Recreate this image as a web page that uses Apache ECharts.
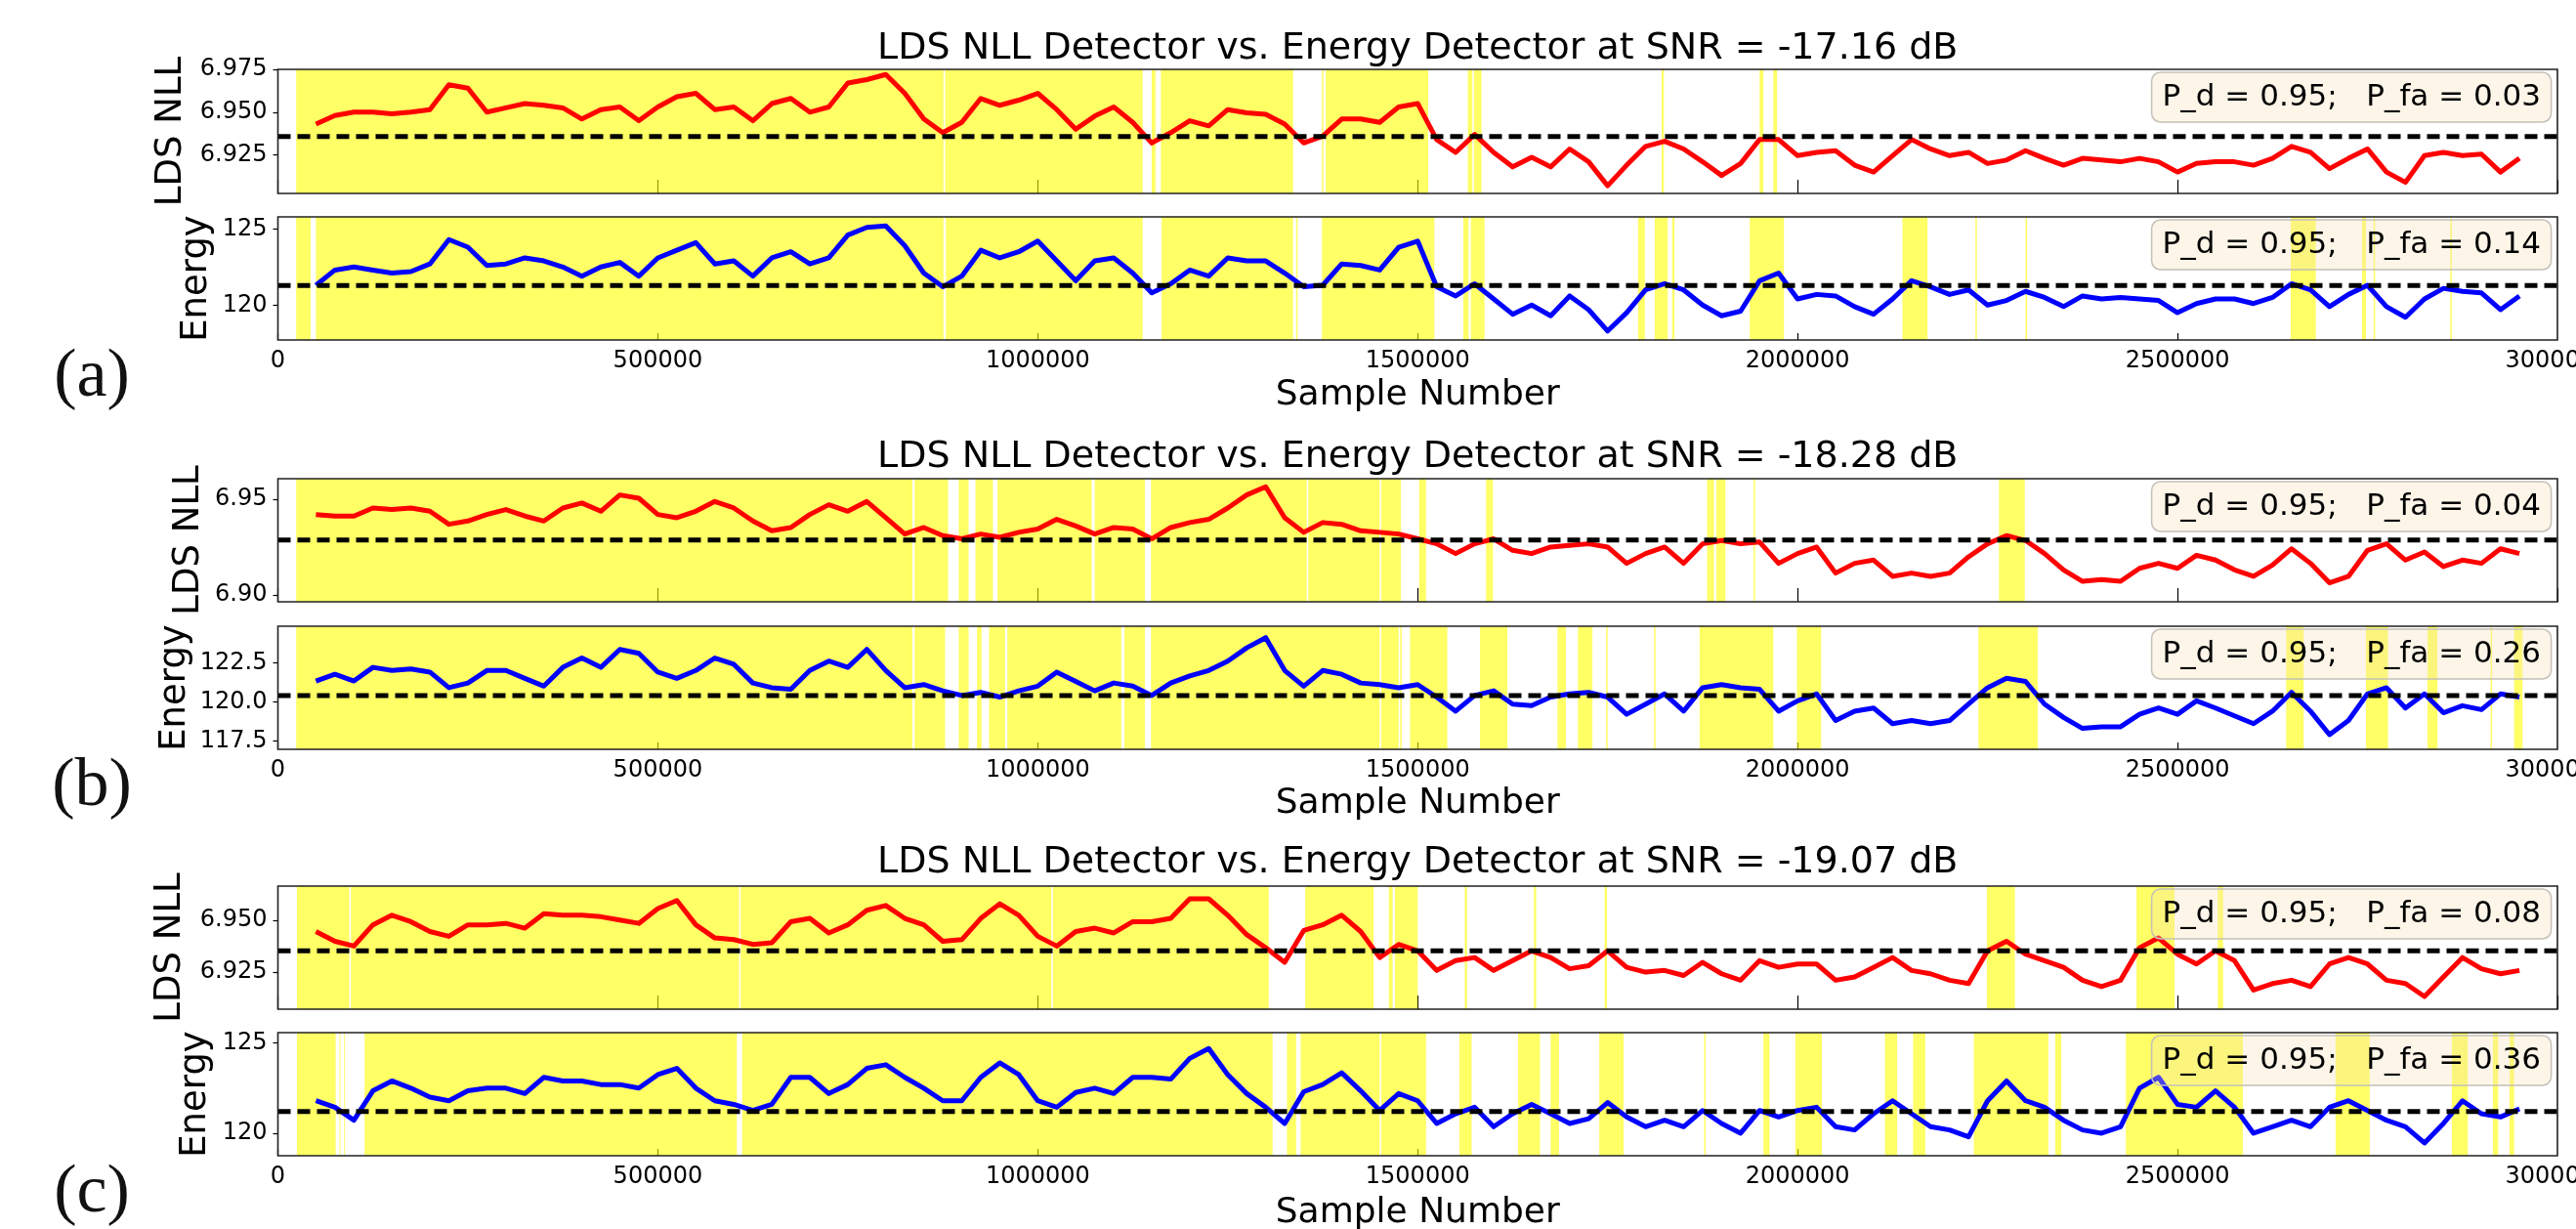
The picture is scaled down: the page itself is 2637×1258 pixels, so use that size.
<!DOCTYPE html>
<html><head><meta charset="utf-8">
<script src="https://cdn.jsdelivr.net/npm/echarts@6/dist/echarts.min.js"></script>
<style>html,body{margin:0;padding:0;background:#fff}#chart{width:2637px;height:1258px}</style>
</head><body><div id="chart"></div>
<script>
// ---------------- DATA ----------------
const sampleStart = 50000, sampleStep = 25000, sampleCount = 117;
const sampleNumbers = Array.from({length: sampleCount}, (_, i) => sampleStart + i * sampleStep);

const panelTitles = [
  'LDS NLL Detector vs. Energy Detector at SNR = -17.16 dB',
  'LDS NLL Detector vs. Energy Detector at SNR = -18.28 dB',
  'LDS NLL Detector vs. Energy Detector at SNR = -19.07 dB'
];
const panelTags = ['(a)', '(b)', '(c)'];
const xAxisName = 'Sample Number';
const yNames = ['LDS NLL', 'Energy'];
const xTicks = [0, 3000000, 500000]; // min, max, interval

const nllA = [6.943,6.948,6.950,6.950,6.949,6.950,6.9515,6.966,6.964,6.950,
 6.9525,6.955,6.954,6.9525,6.946,6.9515,6.953,6.945,6.953,6.959,
 6.961,6.9515,6.953,6.945,6.955,6.958,6.950,6.953,6.967,6.969,
 6.972,6.961,6.946,6.938,6.944,6.958,6.954,6.957,6.961,6.9515,
 6.940,6.9477,6.953,6.944,6.932,6.938,6.945,6.942,6.9515,6.9496,
 6.9487,6.943,6.932,6.936,6.946,6.946,6.944,6.953,6.955,6.934,
 6.9265,6.937,6.9265,6.918,6.9236,6.918,6.9285,6.921,6.907,6.919,
 6.930,6.933,6.9285,6.921,6.913,6.920,6.934,6.934,6.9246,6.9265,
 6.9275,6.919,6.915,6.9246,6.934,6.9285,6.9246,6.9265,6.920,6.922,
 6.9275,6.923,6.919,6.923,6.922,6.921,6.923,6.921,6.915,6.920,
 6.921,6.921,6.919,6.923,6.930,6.9265,6.917,6.923,6.9285,6.915,
 6.909,6.9246,6.9265,6.9246,6.9255,6.915,6.923];
const energyA = [121.3,122.3,122.5,122.3,122.1,122.2,122.7,124.3,123.8,122.6,
 122.7,123.1,122.9,122.5,121.9,122.5,122.8,121.9,123.1,123.6,
 124.1,122.7,122.9,121.9,123.1,123.5,122.7,123.1,124.6,125.1,
 125.2,123.9,122.1,121.2,121.9,123.6,123.1,123.5,124.2,122.9,
 121.6,122.9,123.1,122.1,120.8,121.4,122.3,121.9,123.1,122.9,
 122.9,122.1,121.2,121.3,122.7,122.6,122.3,123.8,124.2,121.2,
 120.6,121.4,120.4,119.4,120.0,119.3,120.6,119.7,118.3,119.5,
 121.0,121.4,121.0,120.0,119.3,119.6,121.6,122.1,120.4,120.7,
 120.6,119.9,119.4,120.4,121.6,121.2,120.7,121.0,120.0,120.3,
 120.9,120.5,119.9,120.6,120.4,120.5,120.4,120.3,119.5,120.1,
 120.4,120.4,120.1,120.5,121.4,121.0,119.9,120.7,121.3,119.9,
 119.2,120.4,121.1,120.9,120.8,119.7,120.6];
const nllB = [6.942,6.9412,6.9412,6.9454,6.9446,6.9454,6.9437,6.9369,6.9386,6.942,
 6.9446,6.9412,6.9386,6.9454,6.948,6.9437,6.9522,6.9505,6.942,6.9403,
 6.9437,6.9488,6.9454,6.9386,6.9335,6.9352,6.942,6.9471,6.9437,6.9488,
 6.9403,6.9318,6.9352,6.931,6.9293,6.9318,6.9301,6.9327,6.9344,6.9395,
 6.936,6.9318,6.9352,6.9344,6.9293,6.9352,6.9378,6.9395,6.9454,6.9522,
 6.9565,6.9403,6.9327,6.9378,6.9369,6.9335,6.9327,6.9318,6.9293,6.9267,
 6.9216,6.9267,6.9293,6.9233,6.9216,6.925,6.9259,6.9267,6.925,6.9165,
 6.9216,6.925,6.9165,6.9267,6.9284,6.9267,6.9276,6.9165,6.9216,6.925,
 6.9114,6.9165,6.9182,6.9097,6.9114,6.9097,6.9114,6.9199,6.9267,6.931,
 6.9284,6.9216,6.9131,6.9071,6.908,6.9071,6.9139,6.9165,6.9139,6.9207,
 6.9182,6.9131,6.9097,6.9156,6.9241,6.9165,6.9063,6.9097,6.9233,6.9267,
 6.9182,6.9224,6.9148,6.9182,6.9165,6.9241,6.9216];
const energyB = [121.33,121.76,121.33,122.2,122.0,122.1,121.9,120.9,121.2,122.0,
 122.0,121.5,121.0,122.2,122.8,122.2,123.35,123.1,121.9,121.5,
 122.0,122.8,122.4,121.2,120.9,120.8,122.0,122.6,122.2,123.35,
 122.0,120.9,121.1,120.7,120.4,120.6,120.3,120.7,121.0,121.9,
 121.3,120.7,121.2,121.0,120.4,121.2,121.65,122.0,122.6,123.45,
 124.1,122.0,121.0,122.0,121.76,121.2,121.1,120.9,121.1,120.3,
 119.4,120.4,120.7,119.85,119.75,120.3,120.5,120.6,120.3,119.2,
 119.85,120.5,119.4,120.9,121.1,120.9,120.8,119.4,120.06,120.5,
 118.8,119.4,119.6,118.6,118.8,118.6,118.8,119.85,120.9,121.5,
 121.3,119.85,119.0,118.3,118.4,118.4,119.2,119.6,119.2,120.06,
 119.6,119.1,118.6,119.4,120.6,119.4,117.9,118.8,120.5,120.9,
 119.6,120.5,119.3,119.75,119.5,120.5,120.3];
const nllC = [6.9445,6.9398,6.9375,6.9477,6.9523,6.9492,6.9445,6.9422,6.9477,6.9477,
 6.9484,6.9461,6.9531,6.9523,6.9523,6.9516,6.950,6.9484,6.9555,6.9594,
 6.9477,6.9414,6.9406,6.9383,6.9391,6.9492,6.9508,6.9438,6.9477,6.9547,
 6.957,6.9508,6.9477,6.9398,6.9406,6.9508,6.9578,6.9523,6.9422,6.9375,
 6.9445,6.9461,6.9438,6.9492,6.9492,6.9508,6.9602,6.9602,6.9523,6.943,
 6.9367,6.9297,6.945,6.9477,6.9523,6.9445,6.932,6.9383,6.9352,6.9258,
 6.9305,6.932,6.9258,6.9305,6.9352,6.932,6.9266,6.9281,6.9352,6.9273,
 6.925,6.9258,6.9234,6.9297,6.9242,6.9211,6.9305,6.9273,6.9289,6.9289,
 6.9211,6.9227,6.9273,6.932,6.9258,6.9242,6.9211,6.9195,6.9352,6.9398,
 6.9336,6.9305,6.9273,6.9211,6.918,6.9211,6.9367,6.9414,6.9336,6.9289,
 6.9352,6.9305,6.9164,6.9195,6.9211,6.918,6.9289,6.932,6.9289,6.9211,
 6.9195,6.9133,6.9227,6.932,6.9266,6.9242,6.9258];
const energyC = [121.8,121.44,120.72,122.35,122.9,122.5,122.0,121.8,122.35,122.5,
 122.5,122.2,123.1,122.9,122.9,122.7,122.7,122.5,123.25,123.6,
 122.5,121.8,121.6,121.26,121.6,123.1,123.1,122.2,122.7,123.6,
 123.8,123.1,122.5,121.8,121.8,123.1,123.9,123.25,121.8,121.44,
 122.26,122.5,122.2,123.1,123.1,123.0,124.15,124.7,123.25,122.2,
 121.44,120.54,122.3,122.7,123.35,122.35,121.26,122.2,121.8,120.54,
 121.08,121.44,120.36,121.08,121.6,121.08,120.54,120.8,121.7,120.9,
 120.36,120.72,120.36,121.26,120.54,120.0,121.26,120.9,121.26,121.44,
 120.36,120.18,121.08,121.8,121.08,120.36,120.18,119.8,121.8,122.9,
 121.8,121.44,120.72,120.18,120.0,120.36,122.5,123.1,121.6,121.44,
 122.35,121.44,120.0,120.36,120.72,120.36,121.44,121.8,121.26,120.72,
 120.36,119.46,120.54,121.8,121.08,120.9,121.35];

const thresholdsNll = [6.9358, 6.9287, 6.9352];
const thresholdsEnergy = [121.28, 120.4, 121.2];

const boxTextsNll = ['P_d = 0.95;   P_fa = 0.03', 'P_d = 0.95;   P_fa = 0.04', 'P_d = 0.95;   P_fa = 0.08'];
const boxTextsEnergy = ['P_d = 0.95;   P_fa = 0.14', 'P_d = 0.95;   P_fa = 0.26', 'P_d = 0.95;   P_fa = 0.36'];

// y ranges and tick labels
const yRangeNll = [[6.9025, 6.975], [6.8964, 6.9607], [6.9072, 6.9663]];
const yRangeEnergy = [[117.71, 125.79], [116.96, 124.83], [118.75, 125.58]];
const yTicksNll = [[6.925, 6.950, 6.975], [6.90, 6.95], [6.925, 6.950]];
const yTicksEnergy = [[120, 125], [117.5, 120.0, 122.5], [120, 125]];
const yDecNll = [3, 2, 3];
const yDecEnergy = [0, 1, 0];

// detection (shaded) spans [start, end] in samples
const spansNllA = [[24000,876000],[878000,1138000],[1150000,1155000],[1162000,1336000],[1374000,1376000],[1379000,1514000],
 [1566000,1572000],[1574000,1584000],[1821000,1824000],[1950000,1955000],[1968000,1973000]];
const spansEnergyA = [[24000,43000],[50000,876000],[879000,1138000],[1163000,1336000],[1340000,1342000],[1374000,1522000],
 [1560000,1567000],[1570000,1588000],[1790000,1799000],[1812000,1829000],[1835000,1838000],[1937000,1982000],
 [2138000,2171000],[2234000,2236000],[2300000,2302000],[2649000,2682000],[2743000,2748000],[2758000,2760000],[2859000,2861000]];
const spansNllB = [[24000,835000],[838000,882000],[896000,909000],[918000,941000],[947000,1071000],[1075000,1141000],
 [1149000,1354000],[1356000,1450000],[1452000,1478000],[1502000,1511000],[1590000,1599000],[1881000,1890000],
 [1893000,1905000],[1942000,1944000],[2265000,2299000]];
const spansEnergyB = [[24000,835000],[838000,878000],[896000,909000],[920000,926000],[936000,957000],[960000,1110000],
 [1114000,1141000],[1149000,1450000],[1452000,1475000],[1477000,1479000],[1490000,1539000],[1582000,1618000],
 [1684000,1695000],[1711000,1730000],[1748000,1750000],[1811000,1813000],[1871000,1968000],[1999000,2031000],
 [2238000,2316000],[2643000,2666000],[2748000,2777000],[2829000,2842000],[2912000,2914000],[2943000,2954000]];
const spansNllC = [[25000,94000],[96000,607000],[609000,1018000],[1020000,1304000],[1352000,1442000],[1462000,1467000],
 [1470000,1500000],[1562000,1565000],[1653000,1656000],[1746000,1749000],[2249000,2286000],[2446000,2496000],[2553000,2560000]];
const spansEnergyC = [[25000,76000],[81000,82000],[87000,88000],[114000,604000],[611000,1309000],[1328000,1340000],
 [1346000,1450000],[1452000,1511000],[1555000,1571000],[1632000,1661000],[1675000,1686000],[1739000,1771000],
 [1877000,1879000],[1955000,1963000],[1997000,2032000],[2115000,2131000],[2152000,2168000],[2232000,2330000],
 [2339000,2347000],[2432000,2586000],[2708000,2753000],[2861000,2882000],[2915000,2922000],[2937000,2943000]];

// ---------------- LAYOUT / STYLE ----------------
const W = 2637;
const plotLeft = 284.5, plotRight = 2618;
const gridTops = [[71, 222], [490, 641], [907, 1057]];
const gridHeights = [[127, 126], [126, 126], [126, 126]];
const titleY = [50, 468, 883];
const xNameY = [405, 823, 1242];
const tagY = [387, 806, 1222];
const yLabelX = [[175, 201], [193, 179], [174, 200]];
const FONT = 'DejaVu Sans';
const LABEL_MARGIN = 10;

const panels = [
  {nll: nllA, energy: energyA, spans: [spansNllA, spansEnergyA]},
  {nll: nllB, energy: energyB, spans: [spansNllB, spansEnergyB]},
  {nll: nllC, energy: energyC, spans: [spansNllC, spansEnergyC]}
];

const grid = [], xAxis = [], yAxis = [], series = [], title = [], graphic = [];
const bottomAxes = [];

panels.forEach((p, pi) => {
  for (let k = 0; k < 2; k++) {
    const idx = pi * 2 + k;
    const top = gridTops[pi][k], h = gridHeights[pi][k];
    grid.push({left: plotLeft, width: plotRight - plotLeft, top: top, height: h, show: false, containLabel: false});
    const isBottom = k === 1;
    const range = k === 0 ? yRangeNll[pi] : yRangeEnergy[pi];
    if (isBottom) bottomAxes.push({idx, range});
    xAxis.push({
      type: 'value', gridIndex: idx, min: xTicks[0], max: xTicks[1], interval: xTicks[2],
      axisLine: {show: false},
      splitLine: {show: false},
      axisTick: {show: true, inside: true, length: isBottom ? 7 : 14, lineStyle: {color: '#000', width: 1.2}},
      axisLabel: {show: isBottom, margin: LABEL_MARGIN, fontSize: 24, fontFamily: FONT, color: '#000',
        formatter: v => String(v), showMaxLabel: false, showMinLabel: true}
    });
    const ticks = k === 0 ? yTicksNll[pi] : yTicksEnergy[pi];
    const dec = k === 0 ? yDecNll[pi] : yDecEnergy[pi];
    yAxis.push({
      type: 'value', gridIndex: idx, min: range[0], max: range[1],
      axisLine: {show: false},
      splitLine: {show: false},
      axisTick: {show: true, length: 5, customValues: ticks, lineStyle: {color: '#000', width: 1.2}},
      axisLabel: {show: true, margin: 11, fontSize: 24, fontFamily: FONT, color: '#000',
        customValues: ticks, formatter: v => Number(v).toFixed(dec)}
    });
    // shaded detection spans
    series.push({
      type: 'custom', xAxisIndex: idx, yAxisIndex: idx, z: 1, silent: true, clip: true,
      data: p.spans[k],
      encode: {x: [0, 1]},
      renderItem: (params, api) => {
        const cs = params.coordSys;
        const a = api.coord([api.value(0), range[0]]);
        const b = api.coord([api.value(1), range[0]]);
        return {type: 'rect', shape: {x: a[0], y: cs.y, width: Math.max(b[0] - a[0], 1), height: cs.height},
          style: {fill: 'rgba(255,255,0,0.6)'}};
      }
    });
    // detector output
    const vals = k === 0 ? p.nll : p.energy;
    series.push({
      type: 'line', xAxisIndex: idx, yAxisIndex: idx, z: 3, symbol: 'none', silent: true,
      data: sampleNumbers.map((x, i) => [x, vals[i]]),
      lineStyle: {color: k === 0 ? '#ff0000' : '#0000ff', width: 5, join: 'round'}
    });
    // threshold
    const thr = k === 0 ? thresholdsNll[pi] : thresholdsEnergy[pi];
    series.push({
      type: 'line', xAxisIndex: idx, yAxisIndex: idx, z: 4, symbol: 'none', silent: true,
      data: [[xTicks[0], thr], [xTicks[1], thr]],
      lineStyle: {color: '#000', width: 5, type: [13, 7]}
    });
    // P_d / P_fa box
    title.push({
      text: k === 0 ? boxTextsNll[pi] : boxTextsEnergy[pi],
      right: W - plotRight + 6, top: top + 3,
      padding: [8, 11],
      backgroundColor: 'rgba(245,222,179,0.3)',
      borderColor: '#c4c0b8', borderWidth: 1.5, borderRadius: 9,
      textStyle: {fontSize: 31, fontWeight: 'normal', fontFamily: FONT, color: '#000', lineHeight: 35}
    });
    // frame
    graphic.push({type: 'rect', z: 100, silent: true,
      shape: {x: plotLeft, y: top, width: plotRight - plotLeft, height: h},
      style: {fill: null, stroke: '#222', lineWidth: 1.6}});
    // y label
    graphic.push({type: 'text', z: 100, x: yLabelX[pi][k], y: top + h / 2, rotation: Math.PI / 2,
      style: {text: yNames[k], font: '37px "' + FONT + '"', fill: '#000', textAlign: 'center', textVerticalAlign: 'middle'}});
  }
  graphic.push({type: 'text', z: 100, x: (plotLeft + plotRight) / 2, y: titleY[pi],
    style: {text: panelTitles[pi], font: '38px "' + FONT + '"', fill: '#000', textAlign: 'center', textVerticalAlign: 'middle'}});
  graphic.push({type: 'text', z: 100, x: (plotLeft + plotRight) / 2, y: xNameY[pi],
    style: {text: xAxisName, font: '36px "' + FONT + '"', fill: '#000', textAlign: 'center', textVerticalAlign: 'middle'}});
  graphic.push({type: 'text', z: 100, x: 94, y: tagY[pi],
    style: {text: panelTags[pi], font: '70px "Liberation Serif"', fill: '#111', textAlign: 'center', textVerticalAlign: 'middle'}});
});

const chart = echarts.init(document.getElementById('chart'), null, {renderer: 'canvas'});
chart.setOption({animation: false, backgroundColor: '#fff', grid, xAxis, yAxis, series, title, graphic});

// last x tick label: placed at its axis position and allowed to run off the page edge (as in the figure)
const extra = bottomAxes.map(({idx, range}) => {
  const px = chart.convertToPixel({xAxisIndex: idx}, xTicks[1]);
  const py = chart.convertToPixel({yAxisIndex: idx}, range[0]);
  return {type: 'text', z: 100, x: px, y: py + LABEL_MARGIN,
    style: {text: String(xTicks[1]), font: '24px "' + FONT + '"', fill: '#000', textAlign: 'center', textVerticalAlign: 'top'}};
});
chart.setOption({graphic: graphic.concat(extra)});
</script>
</body></html>
